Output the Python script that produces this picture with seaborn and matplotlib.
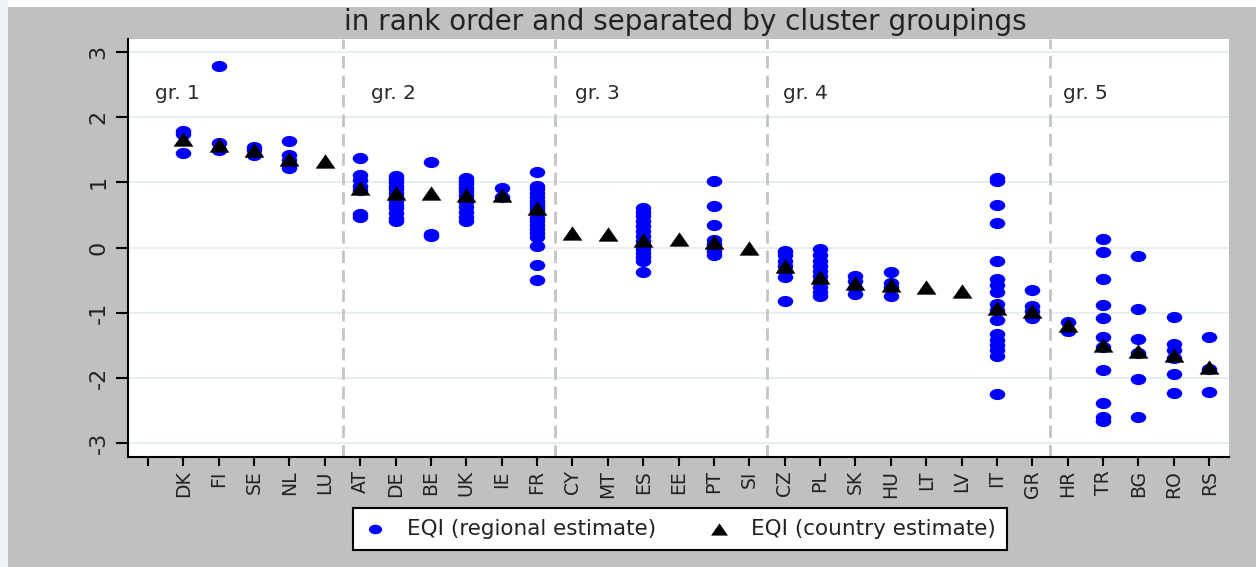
import matplotlib
matplotlib.use("Agg")
import matplotlib.pyplot as plt
from matplotlib.path import Path
from matplotlib.patches import Rectangle
import numpy as np
import pandas as pd
import seaborn as sns

# ---- data -------------------------------------------------------------
countries = ["DK", "FI", "SE", "NL", "LU",
             "AT", "DE", "BE", "UK", "IE", "FR",
             "CY", "MT", "ES", "EE", "PT", "SI",
             "CZ", "PL", "SK", "HU", "LT", "LV", "IT", "GR",
             "HR", "TR", "BG", "RO", "RS"]

country_estimate = [1.67, 1.58, 1.50, 1.36, 1.33,
                    0.92, 0.84, 0.84, 0.80, 0.81, 0.61,
                    0.23, 0.20, 0.12, 0.13, 0.08, -0.01,
                    -0.29, -0.45, -0.55, -0.57, -0.60, -0.67, -0.93, -0.98,
                    -1.19, -1.50, -1.59, -1.65, -1.83]

# regional estimates, one list per country (same order as `countries`)
regional_estimate = [
    [1.79, 1.74, 1.45],                                          # DK
    [2.79, 1.60, 1.50],                                          # FI
    [1.55, 1.50, 1.42],                                          # SE
    [1.64, 1.42, 1.35, 1.28, 1.22],                              # NL
    [],                                                          # LU
    [1.38, 1.12, 1.03, 0.95, 0.88, 0.52, 0.47],                  # AT
    [1.09, 1.05, 1.00, 0.95, 0.90, 0.84, 0.78, 0.72, 0.66,
     0.60, 0.53, 0.46, 0.40],                                    # DE
    [1.32, 0.21, 0.17],                                          # BE
    [1.07, 1.02, 0.97, 0.92, 0.86, 0.80, 0.75, 0.70, 0.62,
     0.55, 0.47, 0.41],                                          # UK
    [0.92, 0.77],                                                # IE
    [1.16, 0.95, 0.90, 0.84, 0.78, 0.72, 0.67, 0.62, 0.57,
     0.52, 0.46, 0.40, 0.34, 0.28, 0.22, 0.16, 0.03, -0.27,
     -0.50],                                                     # FR
    [],                                                          # CY
    [],                                                          # MT
    [0.60, 0.54, 0.48, 0.40, 0.33, 0.26, 0.18, 0.10, 0.04,
     -0.02, -0.08, -0.14, -0.20, -0.38],                         # ES
    [],                                                          # EE
    [1.02, 0.63, 0.34, 0.12, 0.05, -0.05, -0.12],                # PT
    [],                                                          # SI
    [-0.06, -0.12, -0.20, -0.28, -0.36, -0.45, -0.82],           # CZ
    [-0.02, -0.12, -0.20, -0.28, -0.36, -0.44, -0.52, -0.60,
     -0.68, -0.74],                                              # PL
    [-0.43, -0.52, -0.62, -0.71],                                # SK
    [-0.37, -0.55, -0.60, -0.74],                                # HU
    [],                                                          # LT
    [],                                                          # LV
    [1.06, 1.02, 0.65, 0.38, -0.20, -0.48, -0.57, -0.68, -0.86,
     -0.96, -1.12, -1.32, -1.42, -1.50, -1.58, -1.66, -2.25],    # IT
    [-0.65, -0.90, -0.98, -1.08],                                # GR
    [-1.14, -1.28],                                              # HR
    [0.13, -0.07, -0.48, -0.88, -1.08, -1.38, -1.52, -1.88,
     -2.38, -2.60, -2.66],                                       # TR
    [-0.13, -0.95, -1.40, -1.62, -2.02, -2.60],                  # BG
    [-1.07, -1.48, -1.58, -1.70, -1.94, -2.23],                  # RO
    [-1.38, -1.86, -2.22],                                       # RS
]

group_names = ["gr. 1", "gr. 2", "gr. 3", "gr. 4", "gr. 5"]
group_sizes = [5, 6, 6, 8, 5]
y_ticks = [-3, -2, -1, 0, 1, 2, 3]

title_text = "in rank order and separated by cluster groupings"
label_regional = "EQI (regional estimate)"
label_country = "EQI (country estimate)"

# ---- tidy tables --------------------------------------------------------
positions = np.arange(1, len(countries) + 1)
country_df = pd.DataFrame({"pos": positions, "eqi": country_estimate})
regional_df = pd.DataFrame(
    [(p, v) for p, vals in zip(positions, regional_estimate) for v in vals],
    columns=["pos", "eqi"],
)

# ---- figure -------------------------------------------------------------
sns.set_theme(style="white")
plt.rcParams["font.family"] = ["DejaVu Sans"]

W, H = 1256, 567
fig = plt.figure(figsize=(W / 100, H / 100), dpi=100)
fig.patch.set_facecolor("#c0c0c0")
fig.patches.append(Rectangle((0, 1 - 7 / H), 1, 7 / H, transform=fig.transFigure,
                             facecolor="white", edgecolor="none", zorder=0))
fig.patches.append(Rectangle((0, 0), 8 / W, 1, transform=fig.transFigure,
                             facecolor="#eef2f4", edgecolor="none", zorder=0))

ax = fig.add_axes([128 / W, 1 - 457 / H, (1229 - 128) / W, (457 - 39) / H])
ax.set_facecolor("white")

# slightly flattened markers
circle = Path.unit_circle()
ellipse = Path(circle.vertices * np.array([1.0, 0.72]), circle.codes)
triangle = Path([(0, 0.72), (-1, -0.72), (1, -0.72), (0, 0.72)],
                [Path.MOVETO, Path.LINETO, Path.LINETO, Path.CLOSEPOLY])

sns.scatterplot(data=regional_df, x="pos", y="eqi", ax=ax, marker=ellipse,
                s=125, color="#0000ff", linewidth=0, label=label_regional,
                zorder=3)
sns.scatterplot(data=country_df, x="pos", y="eqi", ax=ax, marker=triangle,
                s=205, color="black", linewidth=0, label=label_country,
                zorder=4)

# cluster separators and group labels
bounds = np.cumsum(group_sizes)[:-1] + 0.5
for b in bounds:
    ax.axvline(b, color="#c4c4c4", lw=2, linestyle=(0, (4.5, 2.5)), zorder=1)
starts = np.concatenate([[0.5], bounds])
label_offsets = [-0.3, 0.8, 0.57, 0.45, 0.37]
for s0, off, name in zip(starts, label_offsets, group_names):
    ax.text(s0 + off, 2.36, name, ha="left", va="center", fontsize=14.5,
            color="#2a2a2a", zorder=5)

ax.set_xlim(-0.565, 30.56)
ax.set_ylim(-3.215, 3.2)
ax.set_yticks(y_ticks)
ax.set_yticklabels([str(t) for t in y_ticks], rotation=90, va="center",
                   fontsize=16)
ax.set_xticks(np.arange(0, len(countries) + 1))
ax.set_xticklabels([""] + countries, rotation=90, fontsize=13.5)
ax.set_xlabel("")
ax.set_ylabel("")

ax.grid(axis="y", color="#e6eef0", lw=1.5, zorder=0)
ax.grid(axis="x", visible=False)
ax.set_axisbelow(True)

for side in ["top", "right"]:
    ax.spines[side].set_visible(False)
for side in ["left", "bottom"]:
    ax.spines[side].set_color("black")
    ax.spines[side].set_linewidth(1.5)

ax.tick_params(axis="y", direction="out", length=9, width=1.5, pad=5,
               colors="black", left=True)
ax.tick_params(axis="x", direction="out", length=6.5, width=1.5, pad=3,
               colors="black", bottom=True)
for t in ax.get_xticklabels() + ax.get_yticklabels():
    t.set_color("#222222")

fig.text(685 / W, 1 - 22 / H, title_text, ha="center", va="center",
         fontsize=20, color="#222222")

handles, labels = ax.get_legend_handles_labels()
ax.get_legend().remove()
leg = fig.legend(handles, labels, ncol=2, loc="center",
                 bbox_to_anchor=(680 / W, 1 - 529 / H), fontsize=15.5,
                 frameon=True, fancybox=False, edgecolor="black",
                 facecolor="white", framealpha=1, columnspacing=2.4,
                 handlelength=1.0, handletextpad=1.0, borderpad=0.5,
                 borderaxespad=0, markerscale=0.85)
leg.get_frame().set_linewidth(1.5)
for t in leg.get_texts():
    t.set_color("#222222")

fig.savefig("out.png", dpi=100, facecolor=fig.get_facecolor())
